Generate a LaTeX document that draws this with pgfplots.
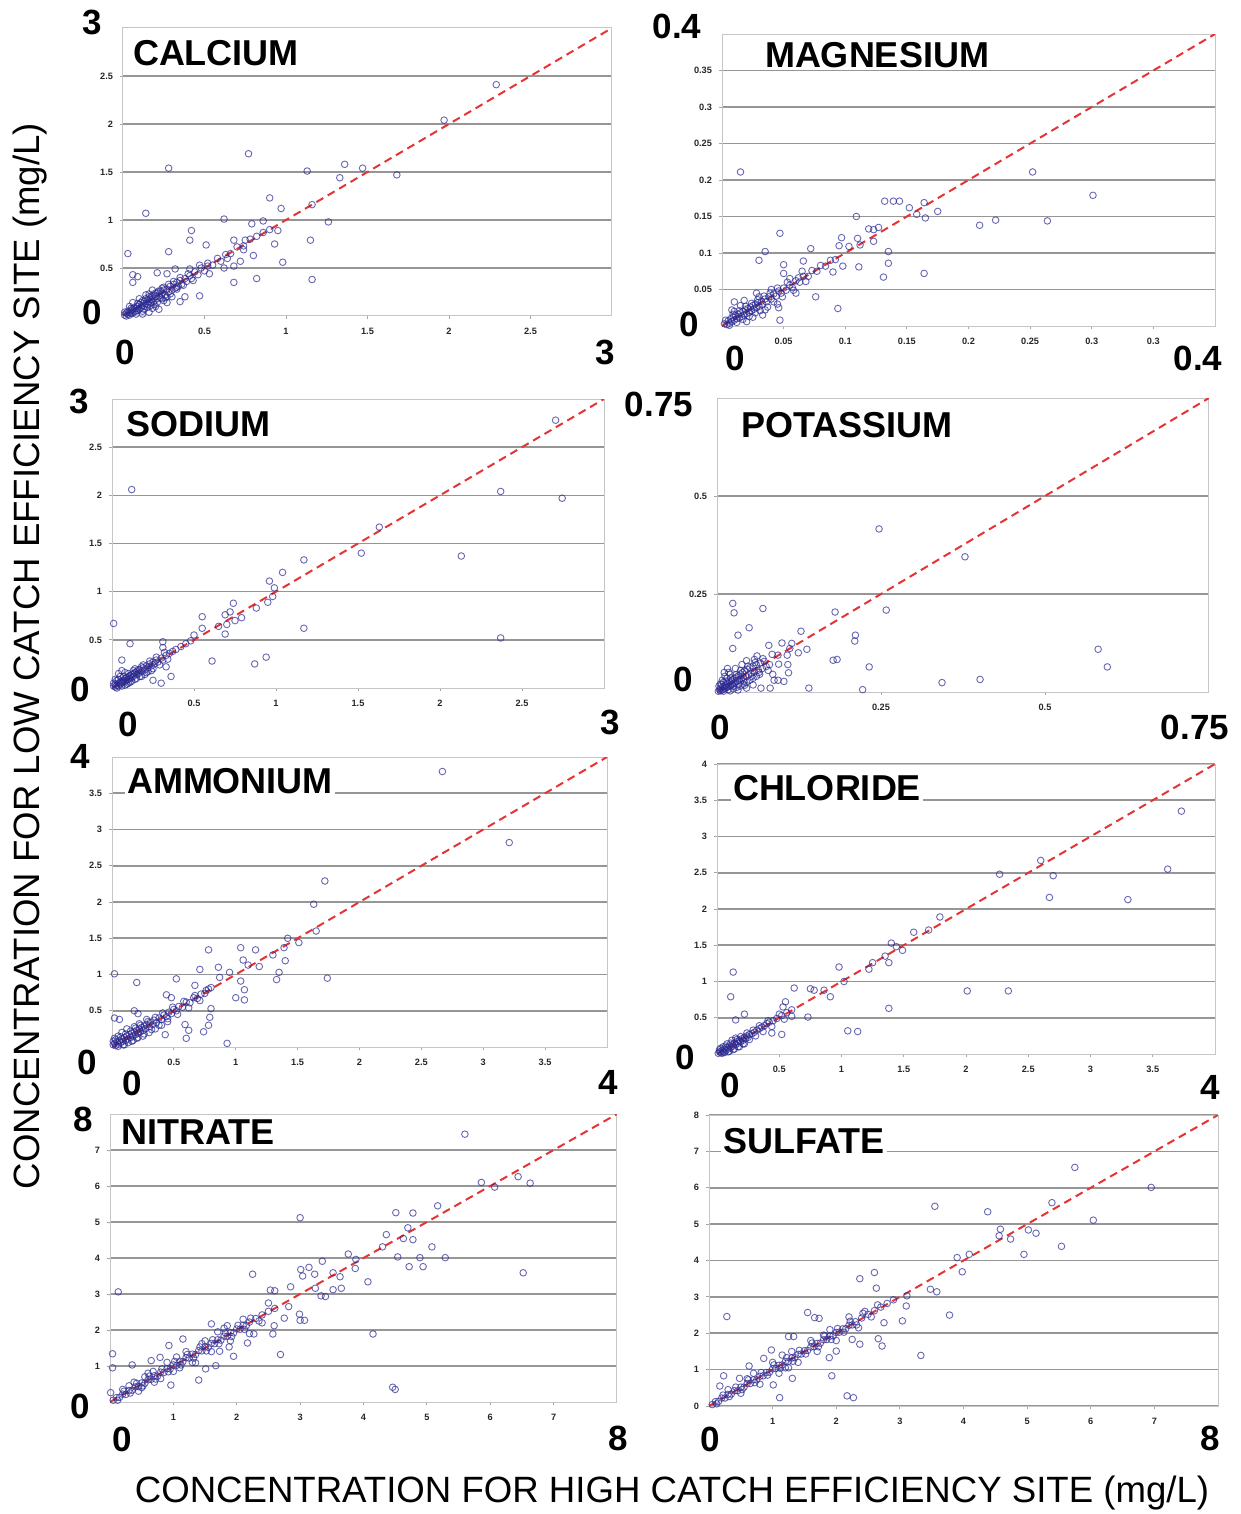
\documentclass[border=0pt]{standalone}
\usepackage{fontspec}
\setmainfont{Liberation Sans}
\usepackage{pgfplots}
\pgfplotsset{compat=1.18}

\definecolor{ptblue}{RGB}{40,40,145}
\definecolor{diagred}{RGB}{228,52,52}
\definecolor{gridgray}{RGB}{150,150,150}

\pgfplotsset{
  panel/.style={
    scale only axis,
    anchor=south west,
    axis line style={gray!45, line width=0.5pt},
    ymajorgrids,
    grid style={gridgray, line width=0.8pt},
    tick style={gray!70, line width=0.4pt},
    xtick pos=bottom, ytick pos=left,
    tick align=outside,
    major tick length=1.5pt,
    ticklabel style={font=\fontsize{4.6}{5}\selectfont\bfseries, text=black!85},
    /pgf/number format/assume math mode=true,
    xticklabel shift=1pt,
  },
  pts/.style={only marks, mark=o, mark size=1.65pt,
    mark options={draw=ptblue, draw opacity=0.7, line width=0.45pt}},
  diag/.style={diagred, line width=1pt, dash pattern=on 4pt off 2.6pt},
}
\newcommand{\rangefont}{\fontsize{17.5}{18}\selectfont\bfseries}

\begin{document}
\begin{tikzpicture}
\path[use as bounding box] (0,0) rectangle (620.5pt,-757pt);

% ---------------- CALCIUM
\begin{axis}[panel, at={(61.5pt,-158pt)}, width=244.5pt, height=144pt,
  xmin=0, xmax=3, ymin=0, ymax=3,
  xtick={0.5,1,1.5,2,2.5}, ytick={0.5,1,1.5,2,2.5}]
\addplot[diag] coordinates {(0,0) (3,3)};
\addplot[pts] coordinates {
(2.29,2.41) (1.97,2.04) (0.77,1.69) (0.28,1.54) (1.36,1.58) (1.13,1.51) (1.47,1.54)
(1.33,1.44) (1.68,1.47) (0.90,1.23) (0.97,1.12) (1.16,1.16) (0.14,1.07) (0.62,1.01)
(0.86,0.99) (1.26,0.98) (0.79,0.96) (0.42,0.89) (0.95,0.89) (0.41,0.79) (0.68,0.79)
(0.75,0.79) (1.15,0.79) (0.51,0.74) (0.93,0.75) (0.03,0.65) (0.28,0.67) (0.74,0.69)
(0.64,0.60) (0.80,0.63) (0.98,0.56) (0.72,0.57) (0.62,0.50) (0.68,0.52) (1.16,0.38)
(0.82,0.39) (0.68,0.35) (0.06,0.43) (0.09,0.41) (0.06,0.35) (0.21,0.45) (0.32,0.49)
(0.41,0.49) (0.27,0.44) (0.47,0.21) (0.38,0.20) (0.35,0.15) (0.27,0.14) (0.53,0.44)
(0.47,0.53) (0.52,0.52)
(0.01,0.01) (0.02,0.03) (0.03,0.02) (0.03,0.05) (0.04,0.04) (0.05,0.06) (0.05,0.03)
(0.06,0.07) (0.07,0.05) (0.07,0.09) (0.08,0.08) (0.09,0.10) (0.09,0.06) (0.10,0.12)
(0.11,0.09) (0.11,0.14) (0.12,0.11) (0.13,0.15) (0.13,0.10) (0.14,0.13) (0.15,0.17)
(0.15,0.12) (0.16,0.15) (0.17,0.19) (0.17,0.14) (0.18,0.17) (0.19,0.22) (0.19,0.15)
(0.20,0.20) (0.21,0.18) (0.21,0.24) (0.22,0.21) (0.23,0.26) (0.23,0.19) (0.24,0.23)
(0.25,0.27) (0.26,0.22) (0.27,0.28) (0.28,0.25) (0.29,0.31) (0.30,0.27) (0.31,0.33)
(0.32,0.29) (0.33,0.35) (0.34,0.31) (0.35,0.37) (0.36,0.33) (0.38,0.39) (0.39,0.36)
(0.41,0.42) (0.42,0.39) (0.44,0.46) (0.46,0.43) (0.48,0.50) (0.50,0.47) (0.52,0.55)
(0.55,0.53) (0.58,0.60) (0.60,0.57) (0.63,0.64) (0.66,0.65) (0.70,0.72) (0.74,0.73)
(0.78,0.80) (0.82,0.83) (0.86,0.87) (0.90,0.90) (0.08,0.02) (0.12,0.05) (0.18,0.08)
(0.20,0.10) (0.22,0.07) (0.16,0.04) (0.04,0.10) (0.06,0.14) (0.10,0.18) (0.14,0.22)
(0.18,0.27) (0.25,0.16) (0.30,0.20)
(0.02,0.00) (0.01,0.04) (0.04,0.01) (0.05,0.08) (0.06,0.03) (0.08,0.05) (0.09,0.13)
(0.10,0.07) (0.12,0.16) (0.13,0.07) (0.14,0.18) (0.15,0.09) (0.16,0.20) (0.17,0.11)
(0.18,0.21) (0.19,0.12) (0.20,0.24) (0.21,0.14) (0.22,0.26) (0.24,0.18) (0.25,0.30)
(0.26,0.19) (0.28,0.33) (0.29,0.23) (0.31,0.36) (0.33,0.28) (0.35,0.40) (0.37,0.32)
(0.40,0.44) (0.43,0.37) (0.12,0.02) (0.16,0.23) (0.24,0.29) (0.27,0.20) (0.33,0.30)
};
\end{axis}

% ---------------- MAGNESIUM
\begin{axis}[panel, at={(361pt,-163pt)}, width=246.5pt, height=146pt,
  xmin=0, xmax=0.4, ymin=0, ymax=0.4,
  xtick={0.05,0.1,0.15,0.2,0.25,0.3,0.35},
  xticklabels={0.05,0.1,0.15,0.2,0.25,0.3,0.3},
  ytick={0.05,0.1,0.15,0.2,0.25,0.3,0.35},
  yticklabels={0.05,0.1,0.15,0.2,0.25,0.3,0.35}]
\addplot[diag] coordinates {(0,0) (0.4,0.4)};
\addplot[pts] coordinates {
(0.015,0.211) (0.252,0.211) (0.301,0.179) (0.132,0.171) (0.139,0.171) (0.144,0.171)
(0.164,0.169) (0.175,0.157) (0.152,0.162) (0.158,0.153) (0.165,0.148) (0.109,0.150)
(0.209,0.138) (0.222,0.145) (0.264,0.144) (0.119,0.133) (0.123,0.132) (0.127,0.135)
(0.047,0.127) (0.097,0.121) (0.110,0.120) (0.123,0.116) (0.112,0.111) (0.103,0.109)
(0.072,0.106) (0.035,0.102) (0.135,0.102) (0.095,0.110) (0.030,0.090) (0.050,0.084)
(0.135,0.086) (0.111,0.081) (0.098,0.082) (0.164,0.072) (0.131,0.067) (0.050,0.072)
(0.066,0.089) (0.076,0.040) (0.094,0.024) (0.047,0.008) (0.010,0.033) (0.046,0.025)
(0.033,0.015) (0.090,0.074)
(0.002,0.003) (0.004,0.002) (0.005,0.007) (0.006,0.004) (0.007,0.010) (0.008,0.006)
(0.009,0.012) (0.010,0.008) (0.011,0.014) (0.012,0.010) (0.013,0.016) (0.014,0.011)
(0.015,0.018) (0.016,0.013) (0.017,0.020) (0.018,0.015) (0.019,0.022) (0.020,0.017)
(0.021,0.024) (0.022,0.019) (0.023,0.026) (0.024,0.021) (0.025,0.028) (0.026,0.023)
(0.027,0.030) (0.028,0.025) (0.029,0.032) (0.030,0.027) (0.032,0.034) (0.033,0.030)
(0.035,0.037) (0.036,0.033) (0.038,0.040) (0.040,0.037) (0.042,0.044) (0.044,0.041)
(0.046,0.048) (0.048,0.045) (0.050,0.052) (0.052,0.049) (0.055,0.056) (0.057,0.053)
(0.060,0.062) (0.063,0.060) (0.066,0.068) (0.070,0.068) (0.073,0.076) (0.077,0.075)
(0.080,0.083) (0.084,0.082) (0.088,0.090) (0.092,0.091) (0.010,0.020) (0.015,0.028)
(0.020,0.006) (0.025,0.012) (0.008,0.022) (0.030,0.040) (0.035,0.022) (0.040,0.050)
(0.045,0.030) (0.018,0.035) (0.028,0.045) (0.060,0.045) (0.065,0.075) (0.055,0.065)
(0.003,0.008) (0.006,0.001) (0.009,0.016) (0.012,0.005) (0.014,0.021) (0.017,0.009)
(0.019,0.027) (0.022,0.013) (0.024,0.031) (0.027,0.018) (0.029,0.036) (0.031,0.021)
(0.034,0.041) (0.037,0.026) (0.039,0.045) (0.042,0.033) (0.045,0.052) (0.049,0.040)
(0.053,0.060) (0.058,0.049) (0.062,0.066) (0.068,0.061)
};
\end{axis}

% ---------------- SODIUM
\begin{axis}[panel, at={(56pt,-344pt)}, width=246pt, height=144.5pt,
  xmin=0, xmax=3, ymin=0, ymax=3,
  xtick={0.5,1,1.5,2,2.5}, ytick={0.5,1,1.5,2,2.5}]
\addplot[diag] coordinates {(0,0) (3,3)};
\addplot[pts] coordinates {
(2.705,2.78) (0.12,2.06) (2.37,2.04) (2.745,1.97) (1.63,1.67) (1.52,1.40) (2.13,1.37)
(1.17,1.33) (1.04,1.20) (0.96,1.11) (0.99,1.04) (0.98,0.95) (0.95,0.89) (0.88,0.83)
(0.74,0.88) (0.72,0.79) (0.69,0.76) (0.75,0.70) (0.79,0.73) (0.55,0.74) (0.55,0.62)
(0.65,0.64) (0.70,0.66) (0.01,0.67) (1.17,0.62) (0.69,0.56) (0.50,0.55) (2.37,0.52)
(0.11,0.46) (0.31,0.48) (0.31,0.42) (0.94,0.32) (0.87,0.25) (0.61,0.28) (0.33,0.22)
(0.36,0.12) (0.30,0.05) (0.06,0.29) (0.25,0.08)
(0.01,0.02) (0.02,0.01) (0.02,0.04) (0.03,0.03) (0.04,0.05) (0.04,0.02) (0.05,0.06)
(0.05,0.04) (0.06,0.07) (0.06,0.05) (0.07,0.08) (0.07,0.06) (0.08,0.10) (0.08,0.07)
(0.09,0.11) (0.09,0.08) (0.10,0.12) (0.10,0.09) (0.11,0.13) (0.11,0.10) (0.12,0.14)
(0.12,0.11) (0.13,0.15) (0.13,0.12) (0.14,0.16) (0.15,0.14) (0.15,0.17) (0.16,0.15)
(0.17,0.19) (0.18,0.17) (0.19,0.21) (0.20,0.19) (0.21,0.23) (0.22,0.21) (0.23,0.25)
(0.24,0.23) (0.25,0.27) (0.26,0.25) (0.27,0.29) (0.28,0.27) (0.30,0.31) (0.31,0.29)
(0.33,0.34) (0.35,0.36) (0.37,0.38) (0.39,0.40) (0.42,0.43) (0.45,0.46) (0.48,0.49)
(0.03,0.08) (0.05,0.12) (0.08,0.16) (0.10,0.05) (0.12,0.07) (0.15,0.10) (0.18,0.12)
(0.20,0.14) (0.22,0.17) (0.04,0.15) (0.06,0.18)
(0.01,0.05) (0.03,0.00) (0.04,0.09) (0.06,0.02) (0.07,0.12) (0.09,0.04) (0.10,0.15)
(0.11,0.06) (0.13,0.18) (0.14,0.09) (0.16,0.19) (0.17,0.12) (0.19,0.24) (0.21,0.16)
(0.23,0.28) (0.25,0.20) (0.27,0.32) (0.29,0.24) (0.32,0.37) (0.34,0.30) (0.02,0.09)
(0.08,0.03) (0.14,0.20) (0.18,0.22) (0.24,0.18)
};
\end{axis}

% ---------------- POTASSIUM
\begin{axis}[panel, at={(358.5pt,-346pt)}, width=246pt, height=147pt,
  xmin=0, xmax=0.75, ymin=0, ymax=0.75,
  xtick={0.25,0.5}, ytick={0.25,0.5}]
\addplot[diag] coordinates {(0,0) (0.75,0.75)};
\addplot[pts] coordinates {
(0.247,0.416) (0.378,0.345) (0.581,0.109) (0.595,0.064) (0.343,0.024) (0.401,0.032)
(0.258,0.209) (0.180,0.204) (0.232,0.064) (0.222,0.006) (0.140,0.010) (0.211,0.145)
(0.210,0.130) (0.177,0.081) (0.183,0.083) (0.024,0.226) (0.026,0.202) (0.070,0.213)
(0.049,0.164) (0.032,0.145) (0.128,0.155) (0.024,0.111) (0.079,0.119) (0.099,0.125)
(0.114,0.124) (0.111,0.111) (0.124,0.100) (0.137,0.109) (0.093,0.094) (0.084,0.096)
(0.107,0.094) (0.094,0.071) (0.108,0.070) (0.109,0.049) (0.093,0.030) (0.081,0.010)
(0.102,0.027) (0.087,0.030) (0.061,0.092) (0.057,0.083) (0.042,0.017) (0.067,0.010)
(0.002,0.002) (0.004,0.006) (0.005,0.003) (0.006,0.010) (0.008,0.005) (0.009,0.013)
(0.010,0.008) (0.012,0.015) (0.013,0.010) (0.014,0.018) (0.015,0.012) (0.016,0.022)
(0.018,0.014) (0.019,0.025) (0.020,0.017) (0.022,0.028) (0.023,0.019) (0.024,0.032)
(0.026,0.022) (0.027,0.035) (0.028,0.025) (0.030,0.038) (0.031,0.028) (0.033,0.042)
(0.034,0.031) (0.036,0.046) (0.037,0.034) (0.039,0.050) (0.040,0.037) (0.042,0.054)
(0.044,0.040) (0.046,0.058) (0.048,0.044) (0.050,0.062) (0.052,0.048) (0.055,0.066)
(0.057,0.052) (0.060,0.070) (0.063,0.056) (0.066,0.074) (0.069,0.060) (0.072,0.078)
(0.075,0.065) (0.010,0.025) (0.015,0.035) (0.020,0.045) (0.025,0.008) (0.030,0.012)
(0.035,0.015) (0.040,0.020) (0.045,0.025) (0.050,0.030) (0.008,0.030) (0.012,0.040)
(0.018,0.050) (0.028,0.060) (0.055,0.035) (0.060,0.040) (0.065,0.045) (0.003,0.015)
(0.007,0.020) (0.038,0.070) (0.045,0.080) (0.020,0.003) (0.032,0.005)
(0.005,0.020) (0.010,0.002) (0.014,0.028) (0.017,0.006) (0.021,0.036) (0.025,0.015)
(0.029,0.044) (0.033,0.020) (0.036,0.055) (0.041,0.028) (0.047,0.066) (0.053,0.040)
(0.058,0.075) (0.064,0.050) (0.070,0.085) (0.078,0.055) (0.011,0.050) (0.016,0.060)
(0.045,0.010) (0.055,0.018) (0.085,0.045) (0.080,0.070)
};
\end{axis}

% ---------------- AMMONIUM
\begin{axis}[panel, at={(56pt,-523.5pt)}, width=247.5pt, height=145pt,
  xmin=0, xmax=4, ymin=0, ymax=4,
  xtick={0.5,1,1.5,2,2.5,3,3.5}, ytick={0.5,1,1.5,2,2.5,3,3.5}]
\addplot[diag] coordinates {(0,0) (4,4)};
\addplot[pts] coordinates {
(2.67,3.80) (3.21,2.82) (1.72,2.29) (1.63,1.97) (1.65,1.60) (1.51,1.44) (1.42,1.50)
(1.39,1.37) (1.04,1.37) (1.16,1.34) (0.78,1.34) (1.30,1.27) (1.06,1.20) (1.40,1.19)
(1.19,1.11) (1.10,1.13) (1.35,1.03) (0.95,1.03) (0.86,1.10) (0.71,1.07) (1.74,0.95)
(1.33,0.93) (0.52,0.94) (0.20,0.89) (0.02,1.01) (0.87,0.96) (1.04,0.91) (1.07,0.79)
(1.00,0.68) (1.07,0.65) (0.67,0.85) (0.80,0.53) (0.79,0.41) (0.78,0.30) (0.74,0.21)
(0.59,0.31) (0.60,0.12) (0.62,0.23) (0.93,0.05) (0.02,0.40) (0.06,0.38) (0.18,0.50)
(0.21,0.46) (0.44,0.72) (0.48,0.68) (0.43,0.17)
(0.01,0.03) (0.02,0.05) (0.03,0.02) (0.04,0.07) (0.05,0.04) (0.06,0.09) (0.07,0.06)
(0.08,0.11) (0.09,0.08) (0.10,0.13) (0.11,0.09) (0.12,0.15) (0.13,0.11) (0.14,0.17)
(0.15,0.13) (0.16,0.19) (0.17,0.15) (0.18,0.21) (0.19,0.17) (0.20,0.23) (0.21,0.19)
(0.22,0.25) (0.23,0.21) (0.24,0.27) (0.25,0.23) (0.26,0.29) (0.27,0.25) (0.28,0.31)
(0.30,0.28) (0.31,0.34) (0.33,0.31) (0.34,0.37) (0.36,0.34) (0.38,0.40) (0.40,0.38)
(0.42,0.44) (0.44,0.42) (0.46,0.48) (0.48,0.46) (0.50,0.52) (0.52,0.50) (0.54,0.56)
(0.57,0.55) (0.60,0.62) (0.63,0.61) (0.66,0.68) (0.69,0.67) (0.72,0.73) (0.75,0.74)
(0.78,0.80) (0.80,0.82) (0.05,0.15) (0.08,0.20) (0.12,0.25) (0.16,0.08) (0.20,0.12)
(0.25,0.15) (0.30,0.20) (0.35,0.25) (0.10,0.03) (0.22,0.32) (0.28,0.38) (0.40,0.30)
(0.45,0.35) (0.02,0.12) (0.18,0.28)
(0.01,0.08) (0.03,0.10) (0.05,0.01) (0.07,0.14) (0.09,0.03) (0.11,0.18) (0.13,0.06)
(0.15,0.22) (0.17,0.09) (0.19,0.26) (0.21,0.13) (0.23,0.30) (0.26,0.18) (0.29,0.35)
(0.32,0.24) (0.35,0.41) (0.38,0.30) (0.41,0.47) (0.45,0.39) (0.49,0.55) (0.53,0.45)
(0.58,0.63) (0.62,0.54) (0.67,0.71) (0.71,0.64) (0.76,0.78)
};
\end{axis}

% ---------------- CHLORIDE
\begin{axis}[panel, at={(358.5pt,-527pt)}, width=249pt, height=145pt,
  xmin=0, xmax=4, ymin=0, ymax=4,
  xtick={0.5,1,1.5,2,2.5,3,3.5}, ytick={0.5,1,1.5,2,2.5,3,3.5,4}]
\addplot[diag] coordinates {(0,0) (4,4)};
\addplot[pts] coordinates {
(3.73,3.35) (3.62,2.55) (3.30,2.13) (2.27,2.48) (2.60,2.67) (2.70,2.46) (2.67,2.16)
(2.01,0.87) (2.34,0.87) (1.79,1.89) (1.58,1.68) (1.70,1.71) (1.40,1.53) (1.44,1.48)
(1.49,1.43) (1.38,1.26) (1.35,1.35) (1.25,1.26) (1.22,1.17) (0.98,1.20) (1.02,1.00)
(1.38,0.63) (1.05,0.32) (1.13,0.31) (0.13,1.13) (0.11,0.79) (0.62,0.91) (0.75,0.90)
(0.78,0.88) (0.86,0.88) (0.91,0.79) (0.73,0.51) (0.15,0.47) (0.22,0.55) (0.55,0.72)
(0.52,0.27) (0.44,0.29) (0.53,0.65) (0.60,0.52)
(0.01,0.01) (0.02,0.03) (0.03,0.02) (0.04,0.05) (0.05,0.03) (0.06,0.07) (0.07,0.05)
(0.08,0.09) (0.09,0.07) (0.10,0.11) (0.11,0.09) (0.12,0.13) (0.13,0.11) (0.14,0.15)
(0.15,0.13) (0.16,0.17) (0.17,0.15) (0.18,0.19) (0.19,0.17) (0.20,0.21) (0.21,0.19)
(0.22,0.23) (0.23,0.21) (0.24,0.25) (0.25,0.23) (0.26,0.27) (0.28,0.28) (0.30,0.30)
(0.32,0.33) (0.34,0.35) (0.36,0.37) (0.38,0.39) (0.40,0.42) (0.42,0.44) (0.45,0.46)
(0.48,0.49) (0.52,0.53) (0.56,0.57) (0.60,0.61) (0.05,0.10) (0.08,0.14) (0.12,0.19)
(0.15,0.22) (0.10,0.04) (0.14,0.07) (0.18,0.10) (0.22,0.14) (0.03,0.08) (0.06,0.02)
(0.02,0.06) (0.04,0.01) (0.07,0.11) (0.09,0.03) (0.11,0.15) (0.13,0.06) (0.16,0.20)
(0.17,0.10) (0.19,0.24) (0.21,0.14) (0.24,0.29) (0.26,0.20) (0.29,0.33) (0.31,0.25)
(0.34,0.39) (0.37,0.31) (0.41,0.46) (0.44,0.38) (0.50,0.55) (0.54,0.48)
};
\end{axis}

% ---------------- NITRATE
\begin{axis}[panel, at={(55pt,-701pt)}, width=253.5pt, height=144pt,
  xmin=0, xmax=8, ymin=0, ymax=8,
  xtick={1,2,3,4,5,6,7}, ytick={1,2,3,4,5,6,7}]
\addplot[diag] coordinates {(0,0) (8,8)};
\addplot[pts] coordinates {
(5.60,7.44) (6.44,6.26) (6.63,6.08) (5.86,6.10) (6.07,5.97) (6.52,3.59) (3.00,5.12)
(5.17,5.45) (4.51,5.26) (4.78,5.25) (4.70,4.84) (4.36,4.65) (4.63,4.54) (4.78,4.51)
(5.08,4.31) (4.30,4.31) (4.54,4.03) (4.89,4.01) (5.29,4.01) (4.72,3.76) (4.94,3.76)
(3.76,4.11) (3.88,3.96) (3.87,3.71) (4.07,3.34) (4.15,1.89) (4.46,0.41) (4.50,0.35)
(3.35,3.91) (3.14,3.74) (3.01,3.68) (3.23,3.55) (3.04,3.50) (2.25,3.55) (3.52,3.59)
(3.63,3.48) (3.52,3.12) (3.65,3.16) (3.33,2.95) (3.40,2.93) (3.24,3.16) (2.85,3.20)
(2.53,3.11) (2.60,3.09) (2.99,2.44) (3.00,2.27) (3.07,2.27) (2.82,2.65) (2.75,2.33)
(2.59,2.12) (2.57,1.89) (2.69,1.32) (2.17,1.64) (2.27,1.89) (1.95,1.27) (1.60,2.17)
(1.15,1.75) (0.93,1.57) (0.79,1.24) (0.65,1.15) (0.35,1.03) (0.04,1.34) (0.04,0.95)
(0.13,3.06) (0.01,0.26) (0.96,0.47) (1.40,0.61) (1.51,0.92) (1.67,1.01) (1.35,1.09)
(1.73,1.41) (1.88,1.53)
(0.05,0.05) (0.10,0.12) (0.15,0.13) (0.20,0.22) (0.25,0.21) (0.30,0.32) (0.35,0.33)
(0.40,0.42) (0.45,0.43) (0.50,0.53) (0.55,0.52) (0.60,0.62) (0.65,0.63) (0.70,0.73)
(0.75,0.72) (0.80,0.83) (0.85,0.82) (0.90,0.93) (0.95,0.92) (1.00,1.03) (1.05,1.02)
(1.10,1.13) (1.15,1.12) (1.20,1.23) (1.25,1.22) (1.30,1.33) (1.35,1.32) (1.40,1.43)
(1.45,1.42) (1.50,1.53) (1.55,1.52) (1.60,1.63) (1.65,1.62) (1.70,1.73) (1.75,1.72)
(1.80,1.83) (1.85,1.82) (1.90,1.93) (1.95,1.92) (2.00,2.03) (2.05,2.02) (2.10,2.13)
(2.15,2.12) (2.20,2.22) (2.30,2.32) (2.40,2.42) (2.50,2.52) (2.60,2.60) (0.30,0.45)
(0.45,0.30) (0.60,0.80) (0.70,0.55) (0.90,1.10) (1.00,0.85) (1.20,1.40) (1.30,1.10)
(1.50,1.70) (1.60,1.40) (1.80,2.05) (1.90,1.70) (2.20,1.90) (2.40,2.20) (2.50,2.75)
(0.20,0.35) (0.80,0.65) (1.10,0.95) (1.70,1.95) (2.10,2.30) (0.50,0.40) (0.55,0.70)
(0.12,0.05) (0.22,0.30) (0.32,0.25) (0.42,0.52) (0.52,0.45) (0.62,0.72) (0.72,0.64)
(0.82,0.92) (0.92,0.84) (1.02,1.13) (1.12,1.03) (1.22,1.32) (1.32,1.22) (1.42,1.53)
(1.52,1.42) (1.62,1.73) (1.72,1.62) (1.82,1.92) (1.92,1.82) (2.02,2.13) (2.12,2.02)
(2.22,2.33) (2.35,2.25) (0.38,0.55) (0.68,0.85) (1.05,1.25) (1.45,1.62) (1.85,2.12)
};
\end{axis}

% ---------------- SULFATE
\begin{axis}[panel, at={(354.5pt,-703pt)}, width=254.5pt, height=145.5pt,
  xmin=0, xmax=8, ymin=0, ymax=8,
  xtick={1,2,3,4,5,6,7}, ytick={0,1,2,3,4,5,6,7,8}]
\addplot[diag] coordinates {(0,0) (8,8)};
\addplot[pts] coordinates {
(5.75,6.56) (6.95,6.01) (3.55,5.49) (4.38,5.34) (5.39,5.59) (6.04,5.11) (4.58,4.86)
(4.56,4.68) (4.74,4.59) (5.02,4.84) (5.14,4.75) (4.95,4.17) (5.54,4.39) (4.09,4.17)
(3.90,4.08) (3.98,3.69) (3.78,2.50) (3.33,1.39) (3.58,3.14) (3.48,3.21) (3.11,3.03)
(3.10,2.75) (3.04,2.34) (2.60,3.67) (2.37,3.50) (2.63,3.24) (2.75,2.29) (2.66,1.85)
(2.72,1.65) (2.37,1.70) (2.25,1.83) (2.00,1.51) (1.89,1.33) (1.93,0.83) (1.55,2.57)
(1.66,2.43) (1.73,2.41) (1.11,0.23) (2.17,0.28) (2.27,0.23) (0.28,2.46) (0.23,0.83)
(0.17,0.55) (1.25,1.91) (1.33,1.91) (0.98,1.54) (0.86,1.31) (0.63,1.10) (1.01,0.58)
(1.31,0.76) (0.48,0.76)
(0.05,0.04) (0.10,0.12) (0.15,0.13) (0.20,0.22) (0.25,0.22) (0.30,0.32) (0.35,0.33)
(0.40,0.42) (0.45,0.42) (0.50,0.52) (0.55,0.52) (0.60,0.62) (0.65,0.62) (0.70,0.72)
(0.75,0.72) (0.80,0.82) (0.85,0.83) (0.90,0.92) (0.95,0.93) (1.00,1.02) (1.05,1.03)
(1.10,1.12) (1.15,1.13) (1.20,1.22) (1.25,1.23) (1.30,1.32) (1.35,1.33) (1.40,1.42)
(1.45,1.43) (1.50,1.52) (1.55,1.53) (1.60,1.62) (1.65,1.63) (1.70,1.72) (1.75,1.73)
(1.80,1.82) (1.85,1.83) (1.90,1.92) (1.95,1.93) (2.00,2.02) (2.05,2.03) (2.10,2.12)
(2.15,2.13) (2.20,2.22) (2.25,2.23) (2.30,2.32) (2.40,2.42) (2.50,2.52) (2.60,2.62)
(2.70,2.72) (2.80,2.82) (2.90,2.92) (0.30,0.45) (0.50,0.35) (0.70,0.90) (0.80,0.60)
(1.00,1.20) (1.10,0.90) (1.30,1.50) (1.40,1.20) (1.60,1.80) (1.70,1.50) (1.90,2.10)
(2.00,1.80) (2.20,2.45) (2.35,2.15) (2.45,2.60) (0.60,0.75) (1.20,1.05) (1.80,1.95)
(0.12,0.06) (0.22,0.30) (0.32,0.26) (0.42,0.52) (0.52,0.45) (0.62,0.72) (0.72,0.64)
(0.82,0.92) (0.92,0.85) (1.02,1.13) (1.12,1.04) (1.22,1.33) (1.32,1.23) (1.42,1.53)
(1.52,1.43) (1.62,1.73) (1.72,1.63) (1.82,1.93) (1.92,1.83) (2.02,2.13) (2.12,2.03)
(2.22,2.33) (2.32,2.23) (2.42,2.55) (2.55,2.45) (2.65,2.78) (1.15,1.40) (1.25,1.05)
};
\end{axis}

% ---------------- panel titles
\begin{scope}[every node/.style={font=\fontsize{18}{20}\selectfont\bfseries, fill=white, inner sep=1pt}]
\node at (108pt,-26.5pt) {CALCIUM};
\node at (438.5pt,-27.5pt) {MAGNESIUM};
\node at (99pt,-212pt) {SODIUM};
\node at (423.5pt,-212.5pt) {POTASSIUM};
\node at (115pt,-390.5pt) {AMMONIUM};
\node at (413.5pt,-394pt) {CHLORIDE};
\node at (99pt,-566pt) {NITRATE};
\node at (402pt,-570.5pt) {SULFATE};
\end{scope}

% ---------------- range labels
\begin{scope}[every node/.style={font=\rangefont, inner sep=0pt}]
\node at (46pt,-11pt) {3};      \node at (46pt,-156pt) {0};
\node at (62.5pt,-176pt) {0};   \node at (302.5pt,-176pt) {3};
\node at (338.5pt,-13pt) {0.4}; \node at (344.5pt,-162pt) {0};
\node at (367.5pt,-179pt) {0};  \node at (599pt,-179pt) {0.4};
\node at (39.5pt,-200.5pt) {3}; \node at (40pt,-344.5pt) {0};
\node at (64pt,-362pt) {0};     \node at (305pt,-361pt) {3};
\node at (329.5pt,-202pt) {0.75}; \node at (341.5pt,-339.5pt) {0};
\node at (360pt,-363.5pt) {0};  \node at (597.5pt,-363.5pt) {0.75};
\node at (40pt,-378pt) {4};     \node at (43.5pt,-531pt) {0};
\node at (66pt,-541.5pt) {0};   \node at (304pt,-541pt) {4};
\node at (342.5pt,-528.5pt) {0};
\node at (365pt,-542.5pt) {0};  \node at (605pt,-543.5pt) {4};
\node at (41.5pt,-559.5pt) {8}; \node at (40pt,-703pt) {0};
\node at (61pt,-719.5pt) {0};   \node at (309pt,-719pt) {8};
\node at (355pt,-719.5pt) {0};  \node at (605pt,-719pt) {8};
\end{scope}

% ---------------- axis titles
\node[font=\fontsize{18.3}{20}\selectfont] at (336pt,-746.5pt)
  {CONCENTRATION FOR HIGH CATCH EFFICIENCY SITE (mg/L)};
\node[font=\fontsize{18.3}{20}\selectfont, rotate=90] at (15pt,-328pt)
  {CONCENTRATION FOR LOW CATCH EFFICIENCY SITE (mg/L)};
\end{tikzpicture}
\end{document}
